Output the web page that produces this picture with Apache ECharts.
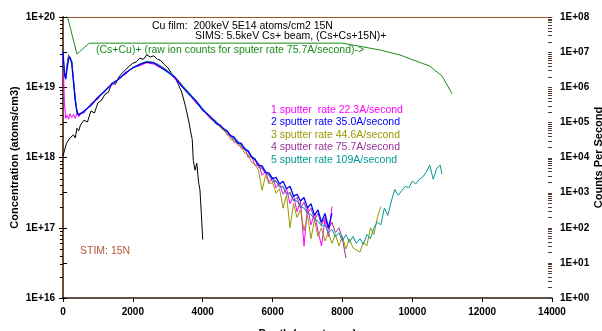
<!DOCTYPE html>
<html>
<head>
<meta charset="utf-8">
<script src="https://cdn.jsdelivr.net/npm/echarts@6/dist/echarts.min.js"></script>
<style>html,body{margin:0;padding:0;background:#fff}#chart{width:602px;height:331px}</style>
</head>
<body>
<div id="chart"></div>
<script>
// depth grid shared by the five sputter-rate runs (angstroms)
var depthSputter = [0, 40, 80, 120, 160, 200, 250, 300, 350, 400, 450, 500,
  600, 800, 1000, 1200, 1400, 1600, 1800, 2000, 2200, 2400, 2600, 2800, 3000, 3200, 3400, 3600, 3800, 4000, 4200, 4400,
  4500, 4600, 4700, 4800, 4900, 5000, 5100, 5200, 5300, 5400, 5500, 5600, 5700, 5800, 5900, 6000, 6100, 6200, 6300, 6400,
  6500, 6600, 6700, 6800, 6900, 7000, 7100, 7200, 7300, 7400, 7500, 7600, 7700, 7800, 7900, 8000, 8100, 8200, 8300, 8400,
  8500, 8600, 8700, 8800, 8900, 9000, 9100, 9200, 9300, 9400, 9500, 9600, 9700, 9800, 9900, 10000, 10100, 10200, 10300, 10400,
  10500, 10600, 10700, 10800, 10850];

var rate22 = [3.2e19, 6.0e18, 3.6e18, 4.0e18, 3.5e18, 4.2e18, 3.7e18, 4.1e18, 3.6e18, 4.3e18, 3.8e18, 4.2e18,
  4.3e18, 5.9e18, 6.8e18, 9.2e18, 1.06e19, 1.34e19, 1.54e19, 1.93e19, 2.02e19, 2.24e19, 2.13e19, 1.88e19, 1.69e19, 1.32e19, 1.02e19, 8.3e18, 6.0e18, 4.9e18, 3.6e18, 3.2e18,
  2.7e18, 2.6e18, 2.1e18, 2.1e18, 1.65e18, 1.7e18, 1.35e18, 1.4e18, 1.0e18, 1.05e18,
  7.6e17, 8.2e17, 5.6e17, 6.3e17, 4.4e17, 5.2e17, 3.7e17, 4.3e17, 3.0e17, 3.6e17,
  2.2e17, 2.9e17, 1.7e17, 2.4e17, 5.5e16, 2.0e17, 1.1e17, 1.6e17, 9.0e16, 5.5e16,
  1.3e17, 7.5e16, 2.0e17];

var rate35 = [3.2e19, 1.6e19, 1.3e19, 1.9e19, 2.5e19, 2.7e19, 2.2e19, 1.2e19, 6.5e18, 4.4e18, 4.0e18, 4.1e18,
  4.6e18, 5.5e18, 7.2e18, 8.8e18, 1.12e19, 1.31e19, 1.62e19, 1.88e19, 2.12e19, 2.28e19, 2.21e19, 1.93e19, 1.64e19, 1.39e19, 1.04e19, 8.0e18, 6.4e18, 4.7e18, 3.9e18, 3.0e18,
  2.9e18, 2.55e18, 2.4e18, 2.05e18, 1.95e18, 1.6e18, 1.6e18, 1.3e18, 1.25e18, 1.02e18,
  9.5e17, 7.8e17, 7.6e17, 6.2e17, 6.0e17, 5.0e17, 5.2e17, 4.2e17, 4.6e17, 3.6e17,
  3.9e17, 2.8e17, 3.0e17, 2.4e17, 2.7e17, 1.9e17, 2.2e17, 1.5e17, 1.8e17, 1.2e17,
  1.6e17, 1.0e17, 1.6e17];

var rate44 = [3.0e19, 1.5e19, 1.4e19, 2.1e19, 2.8e19, 2.9e19, 2.4e19, 1.3e19, 7.0e18, 4.6e18, 4.1e18, 4.0e18,
  4.5e18, 5.7e18, 7.0e18, 9.0e18, 1.11e19, 1.32e19, 1.61e19, 1.92e19, 2.14e19, 2.34e19, 2.26e19, 2.01e19, 1.72e19, 1.43e19, 1.09e19, 8.4e18, 6.5e18, 4.9e18, 3.7e18, 3.0e18,
  2.7e18, 2.4e18, 2.2e18, 1.8e18, 1.75e18, 1.5e18, 1.45e18, 1.15e18, 1.1e18, 8.5e17,
  8.0e17, 6.5e17, 3.4e17, 5.6e17, 4.2e17, 4.4e17, 3.1e17, 3.6e17, 1.9e17, 2.9e17,
  1.0e17, 2.2e17, 1.4e17, 1.8e17, 9.0e16, 1.5e17, 7.0e16, 1.3e17, 7.5e16, 1.0e17,
  6.5e16, 8.5e16, 6.0e16, 8.0e16, 5.5e16, 7.5e16, 5.0e16, 7.0e16, 5.2e16, 4.8e16,
  4.5e16, 6.2e16, 5.5e16, 1.0e17, 8.0e16, 1.4e17, 2.0e17];

var rate75 = [3.1e19, 1.4e19, 1.5e19, 2.2e19, 2.9e19, 3.0e19, 2.3e19, 1.25e19, 6.8e18, 4.5e18, 4.2e18, 4.1e18,
  4.4e18, 5.6e18, 7.1e18, 8.9e18, 1.1e19, 1.3e19, 1.59e19, 1.9e19, 2.11e19, 2.31e19, 2.23e19, 1.98e19, 1.69e19, 1.4e19, 1.07e19, 8.2e18, 6.4e18, 4.9e18, 3.9e18, 3.2e18,
  2.8e18, 2.5e18, 2.3e18, 1.95e18, 1.85e18, 1.6e18, 1.55e18, 1.3e18, 1.2e18, 9.8e17,
  9.2e17, 7.2e17, 7.0e17, 5.8e17, 5.6e17, 4.5e17, 4.6e17, 3.8e17, 3.9e17, 3.0e17,
  3.2e17, 2.4e17, 2.7e17, 1.9e17, 2.3e17, 1.6e17, 1.9e17, 1.3e17, 1.6e17, 1.1e17,
  1.4e17, 9.5e16, 1.2e17, 8.5e16, 1.0e17, 7.0e16, 3.7e16];

var rate109 = [2.9e19, 1.5e19, 1.35e19, 2.0e19, 2.7e19, 2.8e19, 2.3e19, 1.3e19, 6.9e18, 4.5e18, 4.0e18, 4.2e18,
  4.5e18, 5.6e18, 7.2e18, 9.0e18, 1.11e19, 1.31e19, 1.6e19, 1.91e19, 2.13e19, 2.32e19, 2.25e19, 2.0e19, 1.71e19, 1.42e19, 1.08e19, 8.5e18, 6.6e18, 5.0e18, 3.9e18, 3.2e18,
  2.85e18, 2.55e18, 2.3e18, 2.05e18, 1.85e18, 1.75e18, 1.5e18, 1.4e18, 1.2e18, 1.05e18,
  9.0e17, 8.0e17, 7.0e17, 6.3e17, 5.6e17, 4.9e17, 4.6e17, 3.9e17, 3.8e17, 3.1e17,
  3.0e17, 2.5e17, 2.4e17, 2.0e17, 1.9e17, 1.6e17, 1.55e17, 1.3e17, 1.25e17, 1.05e17,
  1.1e17, 8.5e16, 9.5e16, 7.5e16, 8.5e16, 6.5e16, 8.0e16, 6.2e16, 7.5e16, 6.0e16,
  7.0e16, 5.8e16, 8.0e16, 7.0e16, 1.0e17, 1.2e17, 1.1e17, 1.9e17, 1.5e17, 2.4e17,
  3.5e17, 2.9e17, 3.4e17, 3.9e17, 3.7e17, 4.6e17, 4.2e17, 4.9e17, 5.3e17, 6.2e17,
  7.8e17, 4.9e17, 7.0e17, 7.8e17, 5.8e17];

// STIM 15N profile
var depthStim = [0, 50, 100, 150, 200, 250, 300, 350, 400, 450, 500, 600, 700, 800, 900, 1000, 1100, 1200, 1300, 1400,
  1500, 1600, 1700, 1800, 1900, 2000, 2100, 2200, 2300, 2400, 2500, 2600, 2700, 2800, 2900, 3000, 3100, 3200, 3300, 3400,
  3500, 3600, 3650, 3700, 3730, 3780, 3830, 3880, 3920, 3960, 4000];
var stimValues = [1.05e18, 1.1e18, 1.6e18, 1.5e18, 1.9e18, 1.8e18, 2.1e18, 1.9e18, 2.6e18, 2.4e18, 2.9e18, 3.4e18, 3.2e18, 4.6e18, 4.3e18, 6.0e18, 6.5e18, 7.9e18, 8.5e18, 1.15e19,
  1.1e19, 1.4e19, 1.6e19, 1.8e19, 2.0e19, 2.2e19, 2.3e19, 2.6e19, 2.5e19, 2.9e19, 2.7e19, 2.8e19, 2.5e19, 2.4e19, 2.1e19, 1.9e19, 1.6e19, 1.4e19, 1.1e19, 8.5e18,
  5.5e18, 3.3e18, 2.4e18, 1.8e18, 9.1e17, 6.6e17, 8.3e17, 4.5e17, 3.5e17, 1.6e17, 6.8e16];

// (Cs+Cu)+ raw counts, right axis
var depthCsCu = [100, 400, 750, 2000, 4000, 6000, 7500, 8000, 9075, 9650, 10020, 10500, 10850, 11140];
var csCuCounts = [1.3e8, 8.8e6, 1.8e7, 1.8e7, 1.8e7, 1.8e7, 1.8e7, 1.8e7, 1.15e7, 8.3e6, 6.0e6, 4.0e6, 2.1e6, 6.5e5];

var sputterNames = ['1 sputter  rate 22.3A/second', '2 sputter rate 35.0A/second', '3 sputter rate 44.6A/second',
  '4 sputter rate 75.7A/second', '5 sputter rate 109A/second'];
var sputterColors = ['#ff00ff', '#0000ff', '#999900', '#993399', '#009999'];
var sputterRuns = [rate22, rate35, rate44, rate75, rate109];

var FONT = '"Liberation Sans", Arial, sans-serif';

function pairs(xs, ys) {
  return ys.map(function (v, i) { return [xs[i], v]; });
}

function expLabel(v) {
  var e = Math.round(Math.log10(v));
  return '1E+' + (e < 10 ? '0' : '') + e;
}

// log-spaced minor ticks (2..9 in each decade)
function minorValues(lo, hi, withMajor) {
  var out = [];
  for (var e = lo; e < hi; e++) {
    for (var m = withMajor ? 1 : 2; m <= 9; m++) out.push(m * Math.pow(10, e));
  }
  if (withMajor) out.push(Math.pow(10, hi));
  return out;
}

function tickSeries(values, yIndex, xVal, dx1, dx2, color) {
  return {
    type: 'custom', xAxisIndex: 0, yAxisIndex: yIndex, silent: true, clip: false, z: 5,
    data: values.map(function (v) { return [xVal, v]; }),
    renderItem: function (params, api) {
      var p = api.coord([api.value(0), api.value(1)]);
      var y = Math.round(p[1]) + 0.5;
      return { type: 'line', shape: { x1: p[0] + dx1, y1: y, x2: p[0] + dx2, y2: y }, style: { stroke: color, lineWidth: 1 } };
    }
  };
}

var chart = echarts.init(document.getElementById('chart'));

var series = [
  { name: '(Cs+Cu)+', type: 'line', xAxisIndex: 0, yAxisIndex: 1, data: pairs(depthCsCu, csCuCounts),
    showSymbol: false, symbol: 'none', lineStyle: { color: '#1a8c1a', width: 1 }, clip: true },
  { name: 'STIM 15N', type: 'line', data: pairs(depthStim, stimValues), symbol: 'none',
    lineStyle: { color: '#000000', width: 1 }, clip: true }
];
var drawOrder = [0, 2, 3, 4, 1];
drawOrder.forEach(function (i) {
  series.push({
    name: sputterNames[i], type: 'line', data: pairs(depthSputter, sputterRuns[i]), symbol: 'none',
    lineStyle: { color: sputterColors[i], width: i === 1 ? 1.3 : 1 }, clip: true
  });
});
series.push(tickSeries(minorValues(16, 20, false), 0, 0, -3, 0, '#000'));
series.push(tickSeries(minorValues(0, 8, true), 1, 14000, -4, 0, '#5a3a2a'));

var texts = [
  { left: 152, top: 21, text: 'Cu film:  200keV 5E14 atoms/cm2 15N', fill: '#000' },
  { left: 195, top: 31, text: 'SIMS: 5.5keV Cs+ beam, (Cs+Cs+15N)+', fill: '#000' },
  { left: 96, top: 45, text: '(Cs+Cu)+ (raw ion counts for sputer rate 75.7A/second)->', fill: '#1a8c1a' },
  { left: 80, top: 246, text: 'STIM: 15N', fill: '#b5573a' }
];
var legendTops = [105, 117, 130, 142, 155];
sputterNames.forEach(function (n, i) {
  texts.push({ left: 271, top: legendTops[i], text: n, fill: sputterColors[i] });
});

var option = {
  animation: false,
  backgroundColor: '#fff',
  textStyle: { fontFamily: FONT },
  grid: { left: 63, right: 50, top: 17, bottom: 33, containLabel: false, outerBoundsMode: 'none' },
  xAxis: [
    { type: 'value', min: 0, max: 14000, interval: 2000, position: 'bottom',
      name: 'Depth (angstroms)', nameLocation: 'middle', nameGap: 30,
      nameTextStyle: { fontFamily: FONT, fontWeight: 'bold', fontSize: 11, color: '#000' },
      axisLine: { lineStyle: { color: '#2a1a10', width: 1.5 } },
      axisTick: { length: 4, lineStyle: { color: '#000' } },
      axisLabel: { formatter: function (v) { return String(v); }, fontFamily: FONT, fontWeight: 'bold', fontSize: 10, color: '#000', margin: 9 },
      splitLine: { show: false } },
    { type: 'value', min: 0, max: 14000, position: 'top',
      axisLine: { lineStyle: { color: '#a0522d', width: 1 } },
      axisTick: { show: false }, axisLabel: { show: false }, splitLine: { show: false } }
  ],
  yAxis: [
    { type: 'log', logBase: 10, min: 1e16, max: 1e20, splitNumber: 4, position: 'left',
      name: 'Concentration (atoms/cm3)', nameLocation: 'middle', nameGap: 43, nameMoveOverlap: false,
      nameTextStyle: { fontFamily: FONT, fontWeight: 'bold', fontSize: 11, color: '#000' },
      axisLine: { show: true, lineStyle: { color: '#000', width: 1 } },
      axisTick: { length: 4, lineStyle: { color: '#000' } },
      axisLabel: { formatter: expLabel, fontFamily: FONT, fontWeight: 'bold', fontSize: 10, color: '#000', margin: 8 },
      splitLine: { show: false } },
    { type: 'log', logBase: 10, min: 1, max: 1e8, splitNumber: 8, position: 'right',
      name: 'Counts Per Second', nameLocation: 'middle', nameGap: 41, nameRotate: 90, nameMoveOverlap: false,
      nameTextStyle: { fontFamily: FONT, fontWeight: 'bold', fontSize: 11, color: '#000' },
      axisLine: { show: true, lineStyle: { color: '#6b4c3b', width: 2 } },
      axisTick: { length: 4, lineStyle: { color: '#000' } },
      axisLabel: { formatter: expLabel, fontFamily: FONT, fontWeight: 'bold', fontSize: 10, color: '#000', margin: 8 },
      splitLine: { show: false } }
  ],
  graphic: texts.map(function (t) {
    return { type: 'text', left: t.left, top: t.top, z: 100,
      style: { text: t.text, fill: t.fill, font: '10.5px ' + FONT } };
  }),
  series: series
};

chart.setOption(option);
</script>
</body>
</html>
